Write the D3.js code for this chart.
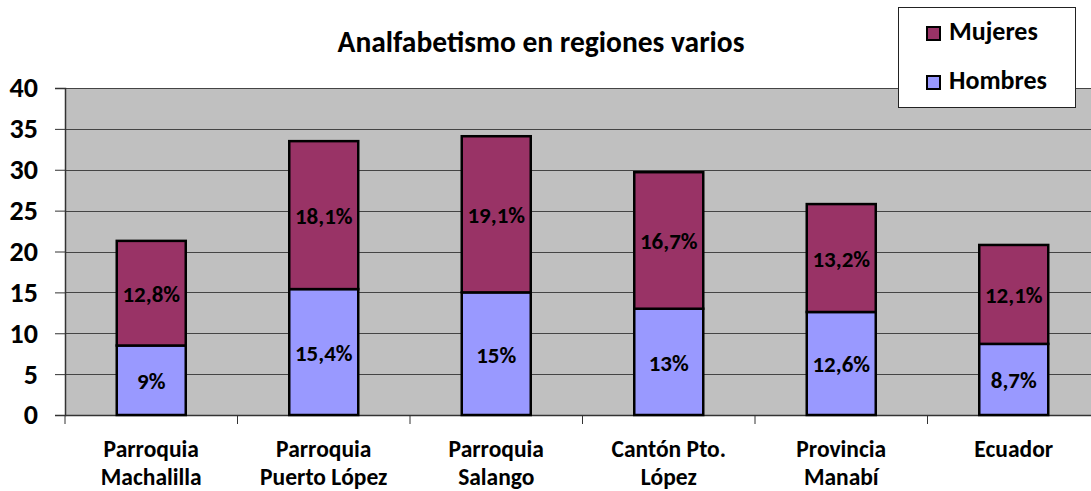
<!DOCTYPE html>
<html>
<head>
<meta charset="utf-8">
<script src="https://cdn.jsdelivr.net/npm/d3@7"></script>
<style>
    body { margin: 0; background: #fff; }
    svg { display: block; font-family: Carlito, "Liberation Sans", Arial, sans-serif; font-weight: bold; }
</style>
</head>
<body>
<div id="chart"></div>
<script>
/* Chart values. */
const categories = [
    ['Parroquia', 'Machalilla'],
    ['Parroquia', 'Puerto López'],
    ['Parroquia', 'Salango'],
    ['Cantón Pto.', 'López'],
    ['Provincia', 'Manabí'],
    ['Ecuador']
];
const hombres = [8.5, 15.4, 15, 13, 12.6, 8.7];
const mujeres = [12.8, 18.1, 19.1, 16.7, 13.2, 12.1];
const hombresLabels = ['9%', '15,4%', '15%', '13%', '12,6%', '8,7%'];
const mujeresLabels = ['12,8%', '18,1%', '19,1%', '16,7%', '13,2%', '12,1%'];
const yTicks = [0, 5, 10, 15, 20, 25, 30, 35, 40];

const W = 1091, H = 491;
const margin = {top: 88, right: -9, bottom: 76, left: 65};
const width = W - margin.left - margin.right;
const height = H - margin.top - margin.bottom;

const svg = d3.select('#chart').append('svg')
    .attr('width', W)
    .attr('height', H);

const g = svg.append('g')
    .attr('transform', 'translate(' + margin.left + ',' + margin.top + ')');

// Scales.
const x = d3.scaleBand().domain(d3.range(categories.length)).range([0, width]).paddingInner(0.6).paddingOuter(0.3);
const y = d3.scaleLinear().domain([0, 40]).range([height, 0]);

// Plot background.
g.append('rect')
    .attr('width', width)
    .attr('height', height)
    .attr('fill', '#c0c0c0');

// Gridlines.
g.selectAll('.grid')
    .data(yTicks)
    .enter()
    .append('line')
    .attr('x1', 0)
    .attr('x2', width)
    .attr('y1', d => Math.round(y(d)) + 0.5)
    .attr('y2', d => Math.round(y(d)) + 0.5)
    .attr('stroke', '#444')
    .attr('stroke-width', 1.2);

// Y axis.
const yAxis = g.append('g')
    .call(d3.axisLeft(y).tickValues(yTicks).tickSize(10).tickPadding(17));
yAxis.select('.domain').attr('stroke', '#333').attr('stroke-width', 1.5);
yAxis.selectAll('.tick line').attr('stroke', '#333');
yAxis.selectAll('text')
    .attr('font-size', 28)
    .attr('font-weight', 'bold')
    .attr('font-family', 'Carlito, "Liberation Sans", Arial, sans-serif')
    .attr('fill', '#000');

// X axis with ticks between categories.
const xTickPos = d3.range(categories.length + 1).map(i => i * width / categories.length);
g.append('line')
    .attr('x1', 0).attr('x2', width)
    .attr('y1', height + 0.5).attr('y2', height + 0.5)
    .attr('stroke', '#333').attr('stroke-width', 1.5);
g.selectAll('.xtick')
    .data(xTickPos)
    .enter()
    .append('line')
    .attr('x1', d => d).attr('x2', d => d)
    .attr('y1', height).attr('y2', height + 9)
    .attr('stroke', '#333');

// Category labels.
const catLabels = g.selectAll('.cat')
    .data(categories)
    .enter()
    .append('text')
    .attr('text-anchor', 'middle')
    .attr('font-size', 23.5)
    .attr('transform', (d, i) => 'translate(' + (x(i) + x.bandwidth() / 2) + ',' + (height + 42) + ')');
catLabels.selectAll('tspan')
    .data(d => d)
    .enter()
    .append('tspan')
    .attr('x', 0)
    .attr('dy', (d, i) => i === 0 ? 0 : 28.3)
    .text(d => d);

// Bars.
g.selectAll('.hombres')
    .data(hombres)
    .enter()
    .append('rect')
    .attr('x', (d, i) => x(i))
    .attr('y', d => y(d))
    .attr('width', x.bandwidth())
    .attr('height', d => height - y(d))
    .attr('fill', '#9999ff')
    .attr('stroke', '#000')
    .attr('stroke-width', 2.5);

g.selectAll('.mujeres')
    .data(mujeres)
    .enter()
    .append('rect')
    .attr('x', (d, i) => x(i))
    .attr('y', (d, i) => y(hombres[i] + d))
    .attr('width', x.bandwidth())
    .attr('height', d => height - y(d))
    .attr('fill', '#993366')
    .attr('stroke', '#000')
    .attr('stroke-width', 2.5);

// Data labels.
g.selectAll('.hlabel')
    .data(hombres)
    .enter()
    .append('text')
    .attr('x', (d, i) => x(i) + x.bandwidth() / 2)
    .attr('y', d => y(d / 2) + 9)
    .attr('text-anchor', 'middle')
    .attr('font-size', 23)
    .text((d, i) => hombresLabels[i]);

g.selectAll('.mlabel')
    .data(mujeres)
    .enter()
    .append('text')
    .attr('x', (d, i) => x(i) + x.bandwidth() / 2)
    .attr('y', (d, i) => y(hombres[i] + d / 2) + 9)
    .attr('text-anchor', 'middle')
    .attr('font-size', 23)
    .text((d, i) => mujeresLabels[i]);

// Title.
svg.append('text')
    .attr('x', 541)
    .attr('y', 52)
    .attr('text-anchor', 'middle')
    .attr('font-size', 29.5)
    .text('Analfabetismo en regiones varios');

// Legend.
const legend = svg.append('g').attr('transform', 'translate(898,7)');
legend.append('rect')
    .attr('x', 0.5).attr('y', 0.5)
    .attr('width', 177).attr('height', 100)
    .attr('fill', '#fff')
    .attr('stroke', '#222');
const legendItems = [{name: 'Mujeres', color: '#993366'}, {name: 'Hombres', color: '#9999ff'}];
const li = legend.selectAll('.item')
    .data(legendItems)
    .enter()
    .append('g')
    .attr('transform', (d, i) => 'translate(29,' + (20 + i * 49) + ')');
li.append('rect')
    .attr('width', 13).attr('height', 13)
    .attr('fill', d => d.color)
    .attr('stroke', '#000').attr('stroke-width', 2);
li.append('text')
    .attr('x', 22)
    .attr('y', 13)
    .attr('font-size', 26)
    .text(d => d.name);
</script>
</body>
</html>
